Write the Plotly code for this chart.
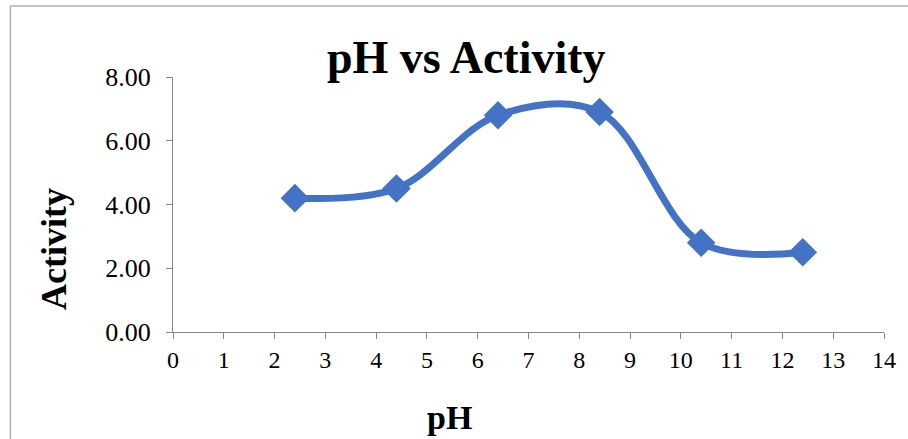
import plotly.graph_objects as go

ph = [2.4, 4.4, 6.4, 8.4, 10.4, 12.4]
activity = [4.2, 4.5, 6.8, 6.9, 2.8, 2.5]
x_ticks = list(range(0, 15))
y_ticks = [0, 2, 4, 6, 8]
y_tick_labels = ["0.00", "2.00", "4.00", "6.00", "8.00"]

W, H = 908, 439
L, R, T, B = 173, 18, 77, 107
pw, ph_ = W - L - R, H - T - B

def px(xp):
    return (xp - L) / pw

def py(yp):
    return (H - B - yp) / ph_

FONT = "Liberation Serif, Times New Roman, serif"
BLUE = "#4472C4"
AX = "#868686"

fig = go.Figure()
fig.add_trace(go.Scatter(
    x=ph, y=activity, mode="lines+markers",
    line=dict(color=BLUE, width=7, shape="spline", smoothing=1.0),
    marker=dict(symbol="diamond", size=22, color=BLUE, line=dict(width=0)),
    showlegend=False, hoverinfo="skip",
))

fig.update_layout(
    width=W, height=H,
    margin=dict(l=L, r=R, t=T, b=B),
    paper_bgcolor="white", plot_bgcolor="white",
    font=dict(family=FONT, color="black"),
    xaxis=dict(range=[0, 14], tickvals=x_ticks, ticktext=[str(v) for v in x_ticks],
               showgrid=False, zeroline=False, showline=True, linecolor=AX, linewidth=1,
               ticks="outside", ticklen=6, tickcolor=AX, tickwidth=1,
               tickfont=dict(size=24, family=FONT), fixedrange=True),
    yaxis=dict(range=[0, 8], tickvals=y_ticks, ticktext=y_tick_labels,
               showgrid=False, zeroline=False, showline=True, linecolor=AX, linewidth=1,
               ticks="outside", ticklen=6, tickcolor=AX, tickwidth=1,
               ticklabelstandoff=10,
               tickfont=dict(size=26, family=FONT), fixedrange=True),
    annotations=[
        dict(text="<b>pH vs Activity</b>", xref="paper", yref="paper",
             x=px(469), y=py(57), xanchor="center", yanchor="middle",
             showarrow=False, font=dict(size=46, family=FONT, color="black")),
        dict(text="<b>pH</b>", xref="paper", yref="paper",
             x=px(452), y=py(417), xanchor="center", yanchor="middle",
             showarrow=False, font=dict(size=34, family=FONT, color="black")),
        dict(text="<b>Activity</b>", xref="paper", yref="paper",
             x=px(53), y=py(249), xanchor="center", yanchor="middle", textangle=-90,
             showarrow=False, font=dict(size=36, family=FONT, color="black")),
    ],
    shapes=[
        dict(type="line", xref="paper", yref="paper", x0=px(9), x1=px(9), y0=py(6), y1=py(445),
             line=dict(color="#B0B0B0", width=1.5)),
        dict(type="line", xref="paper", yref="paper", x0=px(9), x1=px(915), y0=py(6), y1=py(6),
             line=dict(color="#B0B0B0", width=1.5)),
    ],
)

fig.write_html("out.html")
